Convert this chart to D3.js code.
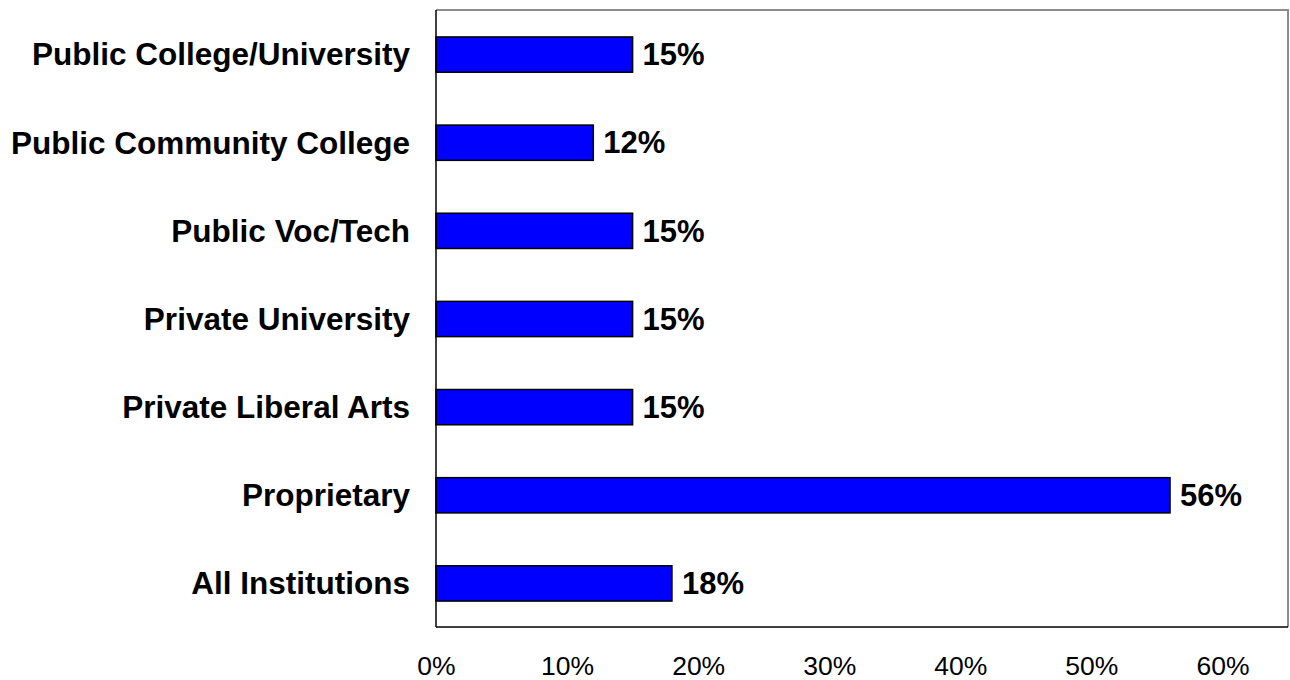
<!DOCTYPE html>
<html>
<head>
<meta charset="utf-8">
<script src="https://cdn.jsdelivr.net/npm/d3@7"></script>
<style>
  html, body { margin: 0; padding: 0; background: #fff; overflow: hidden; }
  svg { display: block; font-family: "Liberation Sans", Arial, sans-serif; }
</style>
</head>
<body>
<svg id="chart" width="1290" height="680"></svg>
<script>
// Share of students by institution type
const categories = [
  "Public College/University",
  "Public Community College",
  "Public Voc/Tech",
  "Private University",
  "Private Liberal Arts",
  "Proprietary",
  "All Institutions"
];
const values = [15, 12, 15, 15, 15, 56, 18];
const tickValues = [0, 10, 20, 30, 40, 50, 60];

const svg = d3.select("#chart");
const plot = { left: 436, top: 10, right: 1288, bottom: 627 };

const x = d3.scaleLinear().domain([0, 65]).range([plot.left, plot.right]);
const y = d3.scaleBand().domain(categories).range([plot.top, plot.bottom]).paddingInner(0.6).paddingOuter(0.3);

// plot area border (top and right)
svg.append("path")
  .attr("d", `M${plot.left},${plot.top}H${plot.right}V${plot.bottom}`)
  .attr("fill", "none")
  .attr("stroke", "#8c8c8c")
  .attr("stroke-width", 2);

// bars
svg.append("g").selectAll("rect")
  .data(categories)
  .join("rect")
  .attr("x", x(0))
  .attr("y", d => y(d) + 0.5)
  .attr("width", (d, i) => x(values[i]) - x(0))
  .attr("height", y.bandwidth())
  .attr("fill", "#0000ff")
  .attr("stroke", "#000")
  .attr("stroke-width", 1.5);

// value labels
svg.append("g").selectAll("text")
  .data(categories)
  .join("text")
  .attr("x", (d, i) => x(values[i]) + 10)
  .attr("y", d => y(d) + y.bandwidth() / 2)
  .attr("dy", "0.36em")
  .attr("font-size", 31)
  .attr("font-weight", "bold")
  .attr("fill", "#000")
  .text((d, i) => values[i] + "%");

// category axis
const yAxis = svg.append("g")
  .attr("transform", `translate(${plot.left},0)`)
  .call(d3.axisLeft(y).tickSize(0).tickPadding(26));
yAxis.select(".domain").attr("stroke", "#000").attr("stroke-width", 1.5)
  .attr("d", `M0,${plot.top}V${plot.bottom}`);
yAxis.selectAll("text")
  .attr("font-size", 31.5)
  .attr("font-weight", "bold")
  .attr("font-family", "Liberation Sans, Arial, sans-serif")
  .attr("fill", "#000")
  .attr("dy", "0.36em");

// value axis
const xAxis = svg.append("g")
  .attr("transform", `translate(0,${plot.bottom})`)
  .call(d3.axisBottom(x).tickValues(tickValues).tickSize(0).tickPadding(0).tickFormat(d => d + "%"));
xAxis.select(".domain").attr("stroke", "#000").attr("stroke-width", 1.5)
  .attr("d", `M${plot.left},0H${plot.right}`);
xAxis.selectAll("text")
  .attr("font-size", 26.5)
  .attr("font-family", "Liberation Sans, Arial, sans-serif")
  .attr("fill", "#000")
  .attr("y", 48)
  .attr("dy", 0);
</script>
</body>
</html>
